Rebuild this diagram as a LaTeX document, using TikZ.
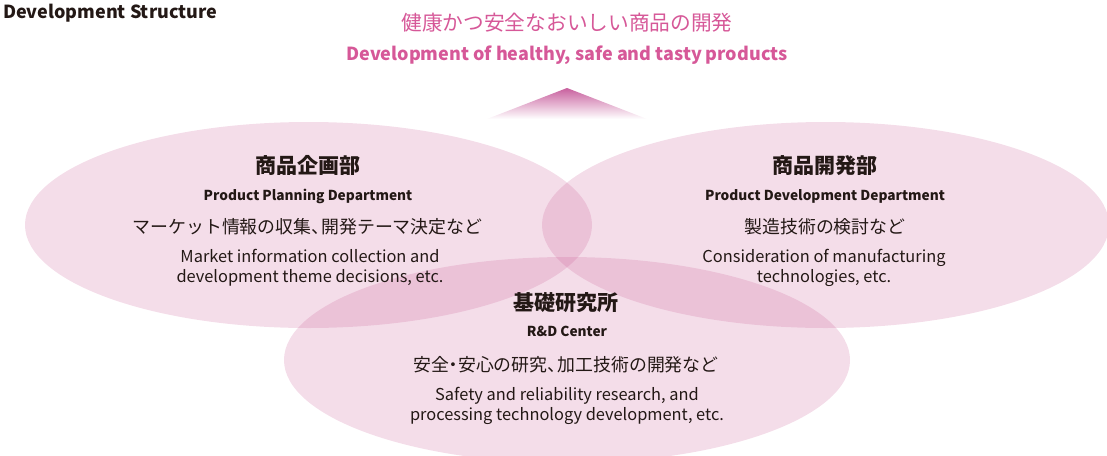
\documentclass[tikz,border=0pt]{standalone}
\usepackage{fontspec}
\setmainfont{Noto Sans CJK JP}
\newcommand\setfs[1]{\fontsize{#1}{#1}\selectfont}
\newcommand\hten{\makebox[0.55em][l]{、}}
\newcommand\hdot{\makebox[0.5em][c]{・}}
\definecolor{ink}{RGB}{35,24,21}
\definecolor{petalc}{RGB}{200,85,145}
\definecolor{titlepink}{RGB}{214,88,152}
\definecolor{tritop}{RGB}{200,96,158}
\begin{document}
\begin{tikzpicture}[x=1pt,y=-1pt,
  txt/.style={text=ink, inner sep=0pt, anchor=base},
  petal/.style={fill=petalc, fill opacity=0.2},
  head/.style={txt, font=\bfseries\setfs{21}},
  eng/.style={txt, font=\bfseries\setfs{13.7}},
  jp/.style={txt, font=\setfs{17.9}},
  desc/.style={txt, font=\setfs{16.4}}]
\useasboundingbox (0,0) rectangle (1107,455);
\begin{scope}
\clip (0,0) rectangle (1107,455);
\fill[petal] (308.5,225) ellipse [x radius=283.5, y radius=103];
\fill[petal] (825.5,225) ellipse [x radius=283.5, y radius=103];
\fill[petal] (567,360) ellipse [x radius=283, y radius=103];
\end{scope}
\shade[top color=tritop, bottom color=white] (567,88) -- (647,119) -- (487,119) -- cycle;

\node[txt, anchor=base west, font=\bfseries\setfs{18}] (ds) at (3,18.3) {Development Structure};
\node[txt, text=titlepink, font=\setfs{20.7}] (tjp) at (567,30) {健康かつ安全なおいしい商品の開発};
\node[txt, text=titlepink, font=\bfseries\setfs{18}] (ten) at (567,60.5) {Development of healthy, safe and tasty products};

\node[head] (ph) at (307.5,173.5) {商品企画部};
\node[eng] (pe) at (308,200) {Product Planning Department};
\node[jp] (pj) at (307.5,233.5) {マーケット情報の収集\hten 開発テーマ決定など};
\node[desc] (pd1) at (310,262) {Market information collection and};
\node[desc] (pd2) at (310,282) {development theme decisions, etc.};

\node[head] (dh) at (825,173.5) {商品開発部};
\node[eng] (de) at (825,200) {Product Development Department};
\node[jp] (dj) at (825,233.5) {製造技術の検討など};
\node[desc] (dd1) at (824,262) {Consideration of manufacturing};
\node[desc] (dd2) at (824,282) {technologies, etc.};

\node[head] (rh) at (566,310) {基礎研究所};
\node[eng] (re) at (567,336.5) {R\&D Center};
\node[jp] (rj) at (566,371.5) {安全\hdot 安心の研究\hten 加工技術の開発など};
\node[desc] (rd1) at (567,400.5) {Safety and reliability research, and};
\node[desc] (rd2) at (567,420.5) {processing technology development, etc.};
\end{tikzpicture}
\end{document}
